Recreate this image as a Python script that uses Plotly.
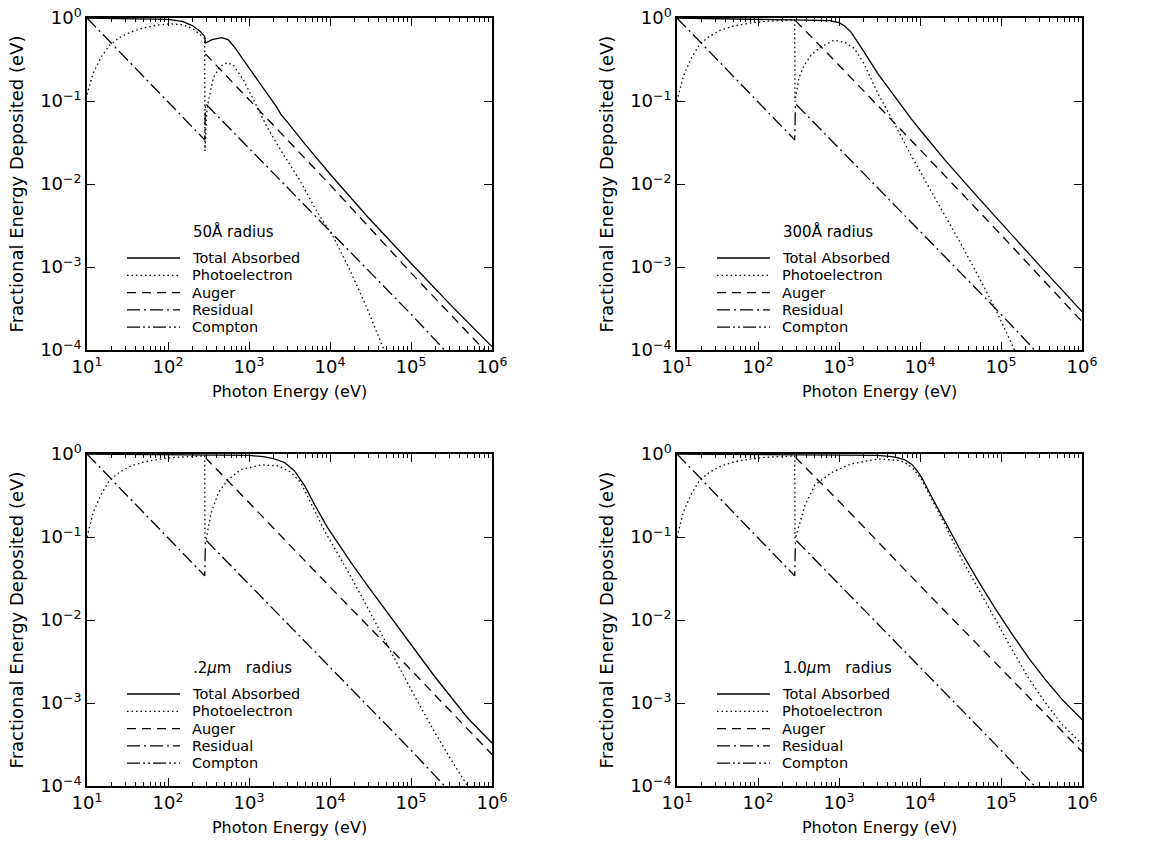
import plotly.graph_objects as go

W, H = 1156, 846

# ---------------- data ----------------
x_tickvals = [1e1, 1e2, 1e3, 1e4, 1e5, 1e6]
x_ticktext = ["10<sup>1</sup>", "10<sup>2</sup>", "10<sup>3</sup>",
              "10<sup>4</sup>", "10<sup>5</sup>", "10<sup>6</sup>"]
y_tickvals = [1e0, 1e-1, 1e-2, 1e-3, 1e-4]
y_ticktext = ["10<sup>0</sup>", "10<sup>\u22121</sup>", "10<sup>\u22122</sup>",
              "10<sup>\u22123</sup>", "10<sup>\u22124</sup>"]

series_names = ["Total Absorbed", "Photoelectron", "Auger", "Residual", "Compton"]
panel_titles = ["50\u00c5 radius", "300\u00c5 radius",
                ".2<i>\u03bc</i>m\u00a0\u00a0 radius", "1.0<i>\u03bc</i>m\u00a0\u00a0 radius"]

# Residual (same in every panel)
res_E = [10, 30, 100, 284, 290, 1000, 1e4, 1e5, 2.6e5, 3e5]
res_v = [1.0, 0.33, 0.1, 0.034, 0.093, 0.027, 0.0027, 2.7e-4, 1.0e-4, 9e-5]

# Panel 1 : 50 A radius
p1_tot_E = [10, 30, 60, 100, 150, 200, 250, 284, 290, 350, 457, 550, 646, 800, 1000,
            1500, 2190, 2350, 2500, 3000, 5000, 1e4, 3e4, 1e5, 3e5, 1e6]
p1_tot_v = [1.0, 0.99, 0.98, 0.96, 0.91, 0.81, 0.69, 0.6, 0.5, 0.55, 0.58, 0.55, 0.46,
            0.34, 0.25, 0.143, 0.085, 0.075, 0.068, 0.0552, 0.0296, 0.0132, 0.0039,
            0.00111, 3.6e-4, 1.1e-4]
p1_pho_E = [10, 12, 15, 19, 25, 35, 50, 80, 110, 150, 200, 250, 284, 286, 300, 316, 363,
            437, 537, 646, 851, 1259, 1660, 2630, 4270, 6760, 1.1e4, 1.78e4, 2.82e4,
            4.47e4, 5e4]
p1_pho_v = [0.12, 0.22, 0.34, 0.47, 0.58, 0.68, 0.76, 0.83, 0.85, 0.83, 0.75, 0.64,
            0.57, 0.025, 0.07, 0.1, 0.19, 0.26, 0.29, 0.27, 0.18, 0.085, 0.049, 0.023,
            0.011, 0.0048, 0.0023, 9e-4, 3.3e-4, 1.1e-4, 8.5e-5]
p1_aug_E = [290, 1000, 1e4, 1e5, 1e6]
p1_aug_v = [0.37, 0.105, 0.0098, 8.5e-4, 8e-5]

# Panels 2-4 share the photoelectron curve below the carbon K edge
pre_E = [10, 12, 15, 19, 25, 35, 50, 80, 120, 200, 284]
pre_pho = [0.1, 0.2, 0.33, 0.48, 0.6, 0.72, 0.8, 0.87, 0.91, 0.94, 0.95]

# Panel 2 : 300 A radius
p2_tot_E = [10, 50, 100, 200, 284, 290, 500, 760, 1000, 1175, 1400, 1700, 2040, 3000,
            4900, 7800, 1e4, 2e4, 5e4, 1e5, 3e5, 1e6]
p2_tot_v = [1.0, 0.98, 0.97, 0.96, 0.96, 0.95, 0.95, 0.93, 0.88, 0.8, 0.68, 0.52, 0.39,
            0.215, 0.112, 0.061, 0.045, 0.0198, 0.0072, 0.0034, 0.00104, 2.9e-4]
p2_pho_E = [286, 300, 320, 372, 455, 600, 870, 1175, 1550, 2040, 3000, 4900, 7800,
            1.26e4, 2e4, 3.2e4, 5.1e4, 8.3e4, 1.35e5, 1.5e5]
p2_pho_v = [0.098, 0.13, 0.19, 0.27, 0.36, 0.45, 0.54, 0.51, 0.43, 0.28, 0.125, 0.052,
            0.022, 0.0095, 0.0043, 0.0019, 8.2e-4, 3.3e-4, 1.2e-4, 9.5e-5]
p2_aug_E = [290, 1000, 1e4, 1e5, 1e6]
p2_aug_v = [0.93, 0.27, 0.026, 2.45e-3, 2.2e-4]

# Panel 3 : 0.2 um radius
p3_tot_E = [10, 100, 284, 290, 500, 1000, 1500, 2000, 2750, 3630, 4900, 6460, 9330,
            1.82e4, 2.95e4, 7.6e4, 1.95e5, 5e5, 1e6]
p3_tot_v = [1.0, 0.99, 0.98, 0.97, 0.97, 0.96, 0.93, 0.88, 0.79, 0.63, 0.41, 0.245,
            0.13, 0.049, 0.0255, 0.0072, 0.0021, 6.6e-4, 3.3e-4]
p3_pho_E = [286, 295, 339, 417, 550, 794, 1413, 2291, 3311, 4365, 5888, 8511, 1.15e4,
            1.82e4, 2.95e4, 4.68e4, 7.6e4, 1.2e5, 1.95e5, 3.1e5, 5e5, 6e5]
p3_pho_v = [0.093, 0.093, 0.19, 0.34, 0.49, 0.65, 0.74, 0.72, 0.6, 0.45, 0.25, 0.12,
            0.072, 0.033, 0.0137, 0.0058, 0.0024, 0.00105, 4.5e-4, 2.1e-4, 1e-4, 7.5e-5]
p3_aug_E = [290, 1000, 1e4, 1e5, 1e6]
p3_aug_v = [0.9, 0.26, 0.025, 2.5e-3, 2.4e-4]

# Panel 4 : 1.0 um radius
p4_tot_E = [10, 100, 284, 290, 1000, 3000, 4500, 5370, 6500, 7940, 9100, 1.05e4, 1.38e4,
            2.04e4, 3.24e4, 5.25e4, 8.5e4, 1.35e5, 2.19e5, 3.55e5, 5.6e5, 1e6]
p4_tot_v = [1.0, 0.99, 0.98, 0.97, 0.97, 0.96, 0.93, 0.9, 0.85, 0.75, 0.64, 0.52, 0.31,
            0.15, 0.066, 0.0294, 0.0137, 0.0069, 0.0035, 0.0019, 0.00112, 6.3e-4]
p4_pho_E = [286, 288, 380, 500, 813, 1413, 3020, 4500, 5370, 6500, 7940, 9100, 1.05e4,
            1.38e4, 2.04e4, 3.24e4, 5.25e4, 8.5e4, 1.35e5, 2.19e5, 3.55e5, 5.6e5, 1e6]
p4_pho_v = [0.095, 0.095, 0.24, 0.42, 0.6, 0.76, 0.87, 0.86, 0.84, 0.79, 0.69, 0.59,
            0.49, 0.29, 0.14, 0.055, 0.024, 0.0102, 0.0045, 0.002, 0.001, 5.6e-4, 3.2e-4]
p4_aug_E = [290, 1000, 1e4, 1e5, 1e6]
p4_aug_v = [0.91, 0.27, 0.026, 2.6e-3, 2.6e-4]

panels = [
    (p1_tot_E, p1_tot_v, p1_pho_E, p1_pho_v, p1_aug_E, p1_aug_v),
    (p2_tot_E, p2_tot_v, pre_E + p2_pho_E, pre_pho + p2_pho_v, p2_aug_E, p2_aug_v),
    (p3_tot_E, p3_tot_v, pre_E + p3_pho_E, pre_pho + p3_pho_v, p3_aug_E, p3_aug_v),
    (p4_tot_E, p4_tot_v, pre_E + p4_pho_E, pre_pho + p4_pho_v, p4_aug_E, p4_aug_v),
]

# ---------------- styling ----------------
FONT = "DejaVu Sans"
LW = 1.3
dashes = ["solid", "1.5px,3px", "9px,6px", "13px,4px,2px,4px", "13px,3px,2px,3px,2px,3px"]

# panel boxes in pixels: (left, right, top, bottom)
boxes = [(87, 492, 18, 350), (677, 1082, 18, 350),
         (87, 492, 454, 786), (677, 1082, 454, 786)]

fig = go.Figure()

for i, (box, data) in enumerate(zip(boxes, panels)):
    L, R, T, B = box
    n = "" if i == 0 else str(i + 1)
    tE, tv, pE, pv, aE, av = data
    curves = [(tE, tv, 0), (pE, pv, 1), (aE, av, 2), (res_E, res_v, 3)]
    for xs, ys, k in curves:
        fig.add_trace(go.Scatter(
            x=xs, y=ys, mode="lines", name=series_names[k], showlegend=False,
            xaxis="x" + n, yaxis="y" + n,
            line=dict(color="black", width=LW, dash=dashes[k])))

    common = dict(showline=True, linecolor="black", linewidth=1.5, mirror="ticks",
                  ticks="inside", ticklen=8, tickwidth=1.2, tickcolor="black",
                  showgrid=False, zeroline=False, type="log",
                  tickfont=dict(family=FONT, size=18, color="black"))
    fig.layout["xaxis" + n] = dict(
        common, domain=[L / W, R / W], anchor="y" + n, range=[1, 6],
        tickmode="array", tickvals=x_tickvals, ticktext=x_ticktext,
        minor=dict(ticks="inside", ticklen=4, tickwidth=1, tickcolor="black",
                   dtick="D1", showgrid=False),
        title=dict(text="Photon Energy (eV)", standoff=9,
                   font=dict(family=FONT, size=16, color="black")))
    fig.layout["yaxis" + n] = dict(
        common, domain=[1 - B / H, 1 - T / H], anchor="x" + n, range=[-4, 0],
        tickmode="array", tickvals=y_tickvals, ticktext=y_ticktext,
        title=dict(text="Fractional Energy Deposited (eV)", standoff=12,
                   font=dict(family=FONT, size=18, color="black")))

    # in-plot legend
    fig.add_annotation(x=(L + 104) / W, y=1 - (T + 214) / H, xref="paper", yref="paper",
                       text=panel_titles[i], showarrow=False, xanchor="left",
                       yanchor="middle", font=dict(family=FONT, size=15, color="black"))
    for k, name in enumerate(series_names):
        yy = 1 - (T + 240 + 17.3 * k) / H
        fig.add_shape(type="line", xref="paper", yref="paper",
                      x0=(L + 40) / W, x1=(L + 93) / W, y0=yy, y1=yy,
                      line=dict(color="black", width=LW, dash=dashes[k]))
        fig.add_annotation(x=(L + 104) / W, y=yy, xref="paper", yref="paper",
                           text=name, showarrow=False, xanchor="left",
                           yanchor="middle", borderpad=0,
                           font=dict(family=FONT, size=14.5, color="black"))

fig.update_layout(width=W, height=H, margin=dict(l=0, r=0, t=0, b=0),
                  template="none", paper_bgcolor="white", plot_bgcolor="white",
                  showlegend=False)

fig.write_html("out.html")
